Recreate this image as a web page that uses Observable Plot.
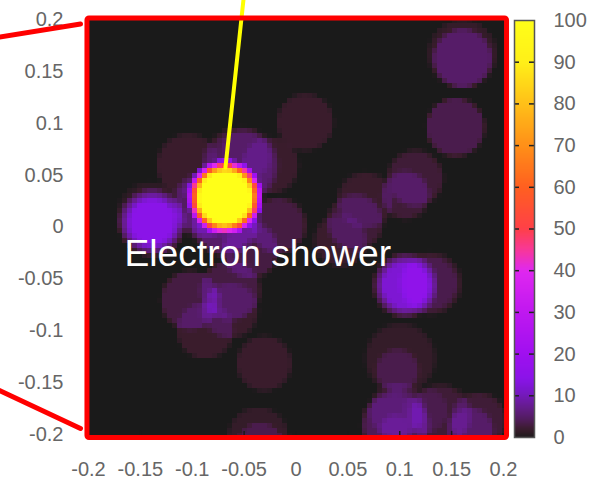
<!DOCTYPE html>
<html><head><meta charset="utf-8">
<script src="https://cdn.jsdelivr.net/npm/d3@7"></script>
<script src="https://cdn.jsdelivr.net/npm/@observablehq/plot@0.6"></script>
<style>html,body{margin:0;padding:0;background:#fff}#c{position:relative;width:592px;height:482px;overflow:hidden}#c svg{position:absolute;left:0;top:0;background:transparent}</style>
</head><body><div id="c"></div>
<script>
const axisTicks = [-0.2,-0.15,-0.1,-0.05,0,0.05,0.1,0.15,0.2];
const barTicks = [0,10,20,30,40,50,60,70,80,90,100];
const barMinorTicks = [10,20,30,40,50,60,70,80,90];
const paletteValues = [0,1,2,4,6,8,11,14,20,30,40,45,50,60,70,80,90,100];
const paletteColors = ["#1a1a1a","#2d1b25","#3a1c2c","#4f1c58","#5c1c78","#6a1c98","#7818c8","#8a14e8","#a010f0","#c018f0","#e028f0","#f83898","#ff4048","#ff6020","#ff9018","#ffc018","#fff018","#ffff18"];
const blobX = [0.1605,0.1605,0.1537,0.0092,0.1152,0.1055,0.0670,0.0573,0.0429,-0.0680,-0.1036,-0.0535,-0.0246,-0.0169,-0.0487,-0.0872,-0.0680,-0.1383,-0.1402,-0.0439,-0.1017,-0.0631,-0.0631,-0.0872,-0.0786,-0.0872,-0.0304,-0.0361,-0.0342,0.1055,0.1296,0.1007,0.0978,0.0959,0.0978,0.1393,0.1248,0.1759,0.1682,0.0959];
const blobY = [0.1663,0.1624,0.0959,0.1007,0.0467,0.0304,0.0255,0.0043,-0.0130,0.0284,0.0593,0.0593,0.0593,0.0014,0.0689,0.0207,0.0063,0.0043,0.0111,-0.0227,-0.0708,-0.0612,-0.0805,-0.0998,-0.0660,-0.0824,-0.1316,-0.2029,-0.2106,-0.0564,-0.0545,-0.1268,-0.1383,-0.1913,-0.1769,-0.1817,-0.1769,-0.1865,-0.1961,-0.1961];
const blobR = [0.0347,0.0299,0.0299,0.0289,0.0289,0.0251,0.0289,0.0289,0.0270,0.0370,0.0318,0.0386,0.0289,0.0289,0.0270,0.0337,0.0360,0.0340,0.0337,0.0289,0.0299,0.0308,0.0289,0.0289,0.0077,0.0077,0.0280,0.0308,0.0241,0.0325,0.0318,0.0357,0.0231,0.0347,0.0289,0.0318,0.0231,0.0289,0.0241,0.0173];
const blobValue = [1.5,3.5,3.5,2,2.5,2.5,2,2.5,2,130,2,3.5,2,3,1.5,4.5,5,13,1,3,3,3,2,2,1.5,1,2,1.5,2,12,3.5,1.5,2,4,2,2.5,1,2.5,2.5,2];
const blobSoft = [0.004,0.004,0.004,0.004,0.005,0.005,0.005,0.005,0.005,0.018,0.004,0.008,0.004,0.005,0.005,0.008,0.008,0.014,0.004,0.005,0.004,0.005,0.005,0.004,0.004,0.004,0.004,0.004,0.004,0.012,0.008,0.005,0.005,0.006,0.005,0.006,0.004,0.005,0.005,0.005];
const frameBox = [{x1:-0.2010,x2:0.2034,y1:-0.2034,y2:0.2010}];
const connectorTop = [{x:-0.2858,y:0.1831},{x:-0.2077,y:0.1957}];
const connectorBottom = [{x:-0.2858,y:-0.1576},{x:-0.2077,y:-0.1942}];
const electronTrack = [{x:-0.0506,y:0.2193},{x:-0.0680,y:0.0573}];
const annotation = [{x:-0.1653,y:-0.0265,label:"Electron shower"}];

function energy(x,y){
  let s=0;
  blobX.forEach((bx,i)=>{
    const d=Math.hypot(x-bx,y-blobY[i]);
    s+=blobValue[i]*Math.max(0,Math.min(1,(blobR[i]-d)/blobSoft[i]));
  });
  return Math.min(s,100);
}
const color={type:"linear",domain:paletteValues,range:paletteColors,clamp:true};
const font='"Liberation Sans",Arial,sans-serif';

const main=Plot.plot({
  width:592,height:482,marginLeft:88,marginRight:89,marginTop:19,marginBottom:48,
  style:{fontFamily:font,background:"transparent",overflow:"visible"},
  x:{domain:[-0.2,0.2]},y:{domain:[-0.2,0.2]},color,
  marks:[
    Plot.axisY(axisTicks,{anchor:"left",tickSize:0,tickPadding:25,fontSize:20,fill:"#666",tickFormat:String,label:null}),
    Plot.axisX(axisTicks,{anchor:"bottom",tickSize:0,tickPadding:27,fontSize:20,fill:"#666",tickFormat:String,label:null}),
    Plot.raster({x1:frameBox[0].x1,x2:frameBox[0].x2,y1:frameBox[0].y1,y2:frameBox[0].y2,width:84,height:84,fill:energy,imageRendering:"pixelated"}),
    Plot.ruleX(axisTicks.slice(1,-1),{y1:-0.2034,y2:-0.1970,stroke:"#1a1a1a",strokeWidth:1.5}),
    Plot.text(annotation,{x:"x",y:"y",text:"label",fill:"#fff",fontSize:37.2,textAnchor:"start",lineAnchor:"middle",fontFamily:font}),
    Plot.line(electronTrack,{x:"x",y:"y",stroke:"#ffff00",strokeWidth:4}),
    Plot.rect(frameBox,{x1:"x1",x2:"x2",y1:"y1",y2:"y2",fill:"none",stroke:"#ff0000",strokeWidth:5,rx:2}),
    Plot.line(connectorTop,{x:"x",y:"y",stroke:"#ff0000",strokeWidth:5}),
    Plot.line(connectorBottom,{x:"x",y:"y",stroke:"#ff0000",strokeWidth:5})
  ]
});
const bar=Plot.plot({
  width:592,height:482,marginLeft:514,marginRight:58,marginTop:20,marginBottom:45,
  style:{fontFamily:font,background:"transparent"},
  x:{domain:[0,1],axis:null},y:{domain:[0,100]},color,
  marks:[
    Plot.raster({x1:0,x2:1,y1:0,y2:100,width:1,height:100,fill:(x,y)=>y}),
    Plot.ruleY(barMinorTicks,{x1:0,x2:0.25,stroke:"#222",strokeWidth:1.5}),
    Plot.ruleY(barMinorTicks,{x1:0.75,x2:1,stroke:"#222",strokeWidth:1.5}),
    Plot.frame({stroke:"#555",strokeWidth:1.5}),
    Plot.axisY(barTicks,{anchor:"right",tickSize:0,tickPadding:19,fontSize:20,fill:"#666",tickFormat:String,label:null,textAnchor:"start"})
  ]
});
document.getElementById("c").append(main,bar);
</script></body></html>
